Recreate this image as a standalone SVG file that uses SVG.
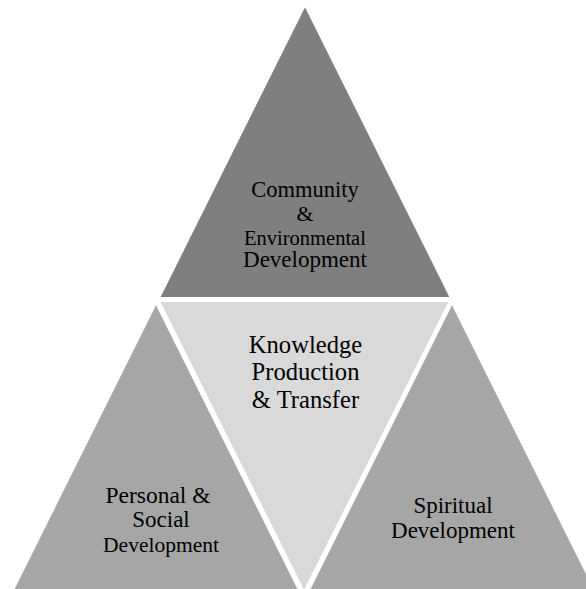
<svg xmlns="http://www.w3.org/2000/svg" width="586" height="589" viewBox="0 0 586 589">
<style>
.tri{stroke:#ffffff;stroke-width:2;stroke-linejoin:miter}
.t{font-family:"Liberation Serif","Times New Roman",serif;fill:#000000;text-anchor:middle}
</style>
<rect width="586" height="589" fill="#ffffff"/>
<g id="community">
<polygon class="tri" points="305,5 159,298 451,298" fill="#7f7f7f"/>
<text class="t" x="305" y="197" font-size="22.5">Community</text>
<text class="t" x="305" y="221" font-size="22">&amp;</text>
<text class="t" x="305" y="245" font-size="20.5">Environmental</text>
<text class="t" x="305" y="267" font-size="23">Development</text>
</g>
<g id="knowledge">
<polygon class="tri" points="159,301 450,301 304,592" fill="#d9d9d9"/>
<text class="t" x="305.5" y="353" font-size="24.6">Knowledge</text>
<text class="t" x="305.5" y="380.3" font-size="24.6">Production</text>
<text class="t" x="305.5" y="407.6" font-size="24.6">&amp; Transfer</text>
</g>
<g id="personal">
<polygon class="tri" points="156,303 12,592 300,592" fill="#a6a6a6"/>
<text class="t" x="158" y="503" font-size="23.5">Personal &amp;</text>
<text class="t" x="161" y="527" font-size="23">Social</text>
<text class="t" x="161" y="552" font-size="21.5">Development</text>
</g>
<g id="spiritual">
<polygon class="tri" points="452,303 308,592 596,592" fill="#a6a6a6"/>
<text class="t" x="453" y="513" font-size="23">Spiritual</text>
<text class="t" x="453" y="538" font-size="23">Development</text>
</g>
<g id="connectors"/>
</svg>
